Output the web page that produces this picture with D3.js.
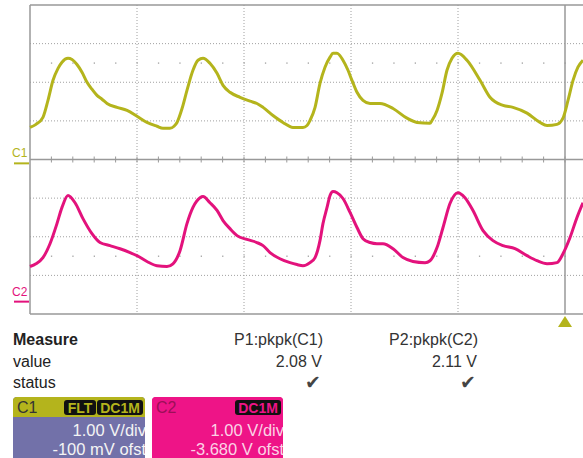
<!DOCTYPE html>
<meta charset="utf-8">
<title>scope capture</title>
<style>
body { margin: 0; background: #fff; }
svg { display: block; font-family: "Liberation Sans", Arial, sans-serif; }
</style>
<script src="https://cdn.jsdelivr.net/npm/d3@7"></script>
<body>
<script>
var width = 583, height = 458;

// Time in horizontal divisions from the left edge of the grid, volts per channel
var c1Time = [0, 0.056, 0.121, 0.168, 0.215, 0.262, 0.299, 0.355, 0.393, 0.439, 0.486, 0.533, 0.579, 0.626, 0.673, 0.720, 0.813, 0.907, 1.0, 1.093, 1.187, 1.243, 1.308, 1.346, 1.374, 1.421, 1.467, 1.523, 1.570, 1.617, 1.682, 1.748, 1.804, 1.869, 1.963, 2.056, 2.121, 2.178, 2.271, 2.364, 2.458, 2.551, 2.589, 2.617, 2.664, 2.710, 2.757, 2.804, 2.832, 2.869, 2.925, 2.972, 3.009, 3.056, 3.112, 3.178, 3.271, 3.393, 3.523, 3.617, 3.738, 3.757, 3.804, 3.850, 3.897, 3.944, 4.0, 4.084, 4.206, 4.299, 4.421, 4.514, 4.645, 4.766, 4.832, 4.925, 4.981, 5.028, 5.075, 5.121, 5.168];
var c1Volts = [0.93, 1.01, 1.19, 1.63, 2.15, 2.46, 2.62, 2.72, 2.69, 2.56, 2.36, 2.10, 1.92, 1.76, 1.66, 1.55, 1.45, 1.37, 1.22, 1.06, 0.96, 0.91, 0.91, 0.96, 1.06, 1.42, 1.89, 2.41, 2.67, 2.72, 2.59, 2.33, 2.02, 1.84, 1.71, 1.61, 1.55, 1.45, 1.24, 1.06, 0.93, 0.93, 0.98, 1.11, 1.45, 2.07, 2.49, 2.75, 2.85, 2.85, 2.67, 2.41, 2.15, 1.84, 1.63, 1.55, 1.55, 1.42, 1.17, 1.06, 1.04, 1.11, 1.37, 1.81, 2.41, 2.72, 2.85, 2.67, 2.15, 1.71, 1.50, 1.45, 1.30, 1.06, 0.98, 1.01, 1.17, 1.63, 2.15, 2.49, 2.67];

var c2Time = [0, 0.056, 0.121, 0.187, 0.252, 0.299, 0.355, 0.421, 0.495, 0.579, 0.654, 0.748, 0.841, 0.935, 1.0, 1.093, 1.187, 1.280, 1.336, 1.402, 1.467, 1.523, 1.589, 1.617, 1.682, 1.748, 1.804, 1.869, 1.935, 2.028, 2.121, 2.178, 2.243, 2.336, 2.430, 2.495, 2.551, 2.617, 2.664, 2.710, 2.738, 2.776, 2.804, 2.832, 2.869, 2.925, 2.991, 3.056, 3.112, 3.178, 3.243, 3.299, 3.393, 3.486, 3.579, 3.692, 3.738, 3.804, 3.860, 3.925, 4.0, 4.065, 4.140, 4.234, 4.327, 4.421, 4.533, 4.645, 4.738, 4.832, 4.925, 4.981, 5.047, 5.112, 5.168];
var c2Volts = [0.91, 0.98, 1.14, 1.50, 2.02, 2.44, 2.75, 2.56, 2.15, 1.76, 1.53, 1.45, 1.37, 1.27, 1.19, 1.04, 0.93, 0.91, 0.98, 1.32, 2.02, 2.44, 2.69, 2.72, 2.56, 2.36, 2.10, 1.89, 1.71, 1.61, 1.53, 1.45, 1.27, 1.11, 1.01, 0.96, 0.93, 1.01, 1.14, 1.58, 2.02, 2.44, 2.75, 2.85, 2.82, 2.67, 2.31, 1.92, 1.63, 1.53, 1.50, 1.50, 1.37, 1.14, 1.04, 1.01, 1.06, 1.40, 1.92, 2.54, 2.82, 2.69, 2.36, 1.84, 1.58, 1.45, 1.37, 1.19, 1.06, 0.98, 1.01, 1.24, 1.66, 2.18, 2.56];

var channels = ["C1", "C2"];
var offsets = [-0.1, -3.68];
var scaleLabels = ["1.00 V/div", "1.00 V/div"];
var offsetLabels = ["-100 mV ofst", "-3.680 V ofst"];
var couplingTags = [["FLT", "DC1M"], ["DC1M"]];
var measureNames = ["P1:pkpk(C1)", "P2:pkpk(C2)"];
var measureValues = ["2.08 V", "2.11 V"];
var rowLabels = ["Measure", "value", "status"];

var traceColors = ["#b4b41c", "#e3127c"];

var svg = d3.select("body").append("svg")
    .attr("width", width)
    .attr("height", height);

// one horizontal division = 107px, one vertical = 38.6px
var x = d3.scaleLinear().domain([0, 5]).range([30, 565]);
var y = d3.scaleLinear().domain([-4, 4]).range([314, 5]);

var grid = svg.append("g");

// dotted grid
grid.selectAll("line.h")
    .data([-3, -2, -1, 1, 2, 3])
  .enter().append("line")
    .attr("x1", 30).attr("x2", width)
    .attr("y1", function(d) { return y(d); })
    .attr("y2", function(d) { return y(d); })
    .attr("stroke", "#a0a0a0")
    .attr("stroke-dasharray", "1,2");
grid.selectAll("line.v")
    .data([1, 2, 3, 4])
  .enter().append("line")
    .attr("x1", function(d) { return x(d); })
    .attr("x2", function(d) { return x(d); })
    .attr("y1", 5).attr("y2", 314)
    .attr("stroke", "#a0a0a0")
    .attr("stroke-dasharray", "1,2");

// minor dots rows
var minor = d3.range(1, 26).map(function(i) { return i * 0.2; });
[2.5, -2.5].forEach(function(r) {
  grid.selectAll(null)
      .data(minor)
    .enter().append("rect")
      .attr("x", function(d) { return x(d) - 0.5; })
      .attr("y", y(r) - 0.5)
      .attr("width", 1.3).attr("height", 1.3)
      .attr("fill", "#a0a0a0");
});

// solid frame, center line and trigger time line
grid.append("line").attr("x1", 30).attr("x2", width).attr("y1", y(4)).attr("y2", y(4)).attr("stroke", "#999").attr("stroke-width", 1.5);
grid.append("line").attr("x1", 30).attr("x2", width).attr("y1", y(-4)).attr("y2", y(-4)).attr("stroke", "#999").attr("stroke-width", 1.5);
grid.append("line").attr("x1", 30).attr("x2", width).attr("y1", y(0)).attr("y2", y(0)).attr("stroke", "#999").attr("stroke-width", 1.3);
grid.append("line").attr("x1", 30).attr("x2", 30).attr("y1", 5).attr("y2", 314).attr("stroke", "#999").attr("stroke-width", 1.5);
grid.append("line").attr("x1", x(5)).attr("x2", x(5)).attr("y1", 5).attr("y2", 314).attr("stroke", "#999").attr("stroke-width", 1.5);

grid.selectAll("line.tick")
    .data(minor)
  .enter().append("line")
    .attr("x1", function(d) { return x(d); })
    .attr("x2", function(d) { return x(d); })
    .attr("y1", y(0) - 3).attr("y2", y(0) + 3)
    .attr("stroke", "#999");

// traces
var traces = [
  { time: c1Time, volts: c1Volts },
  { time: c2Time, volts: c2Volts }
];
var line = d3.line()
    .curve(d3.curveMonotoneX)
    .x(function(d) { return x(d[0]); })
    .y(function(d) { return d[1]; });

traces.forEach(function(tr, i) {
  var pts = tr.time.map(function(t, k) { return [t, y(tr.volts[k] + offsets[i])]; });
  svg.append("path")
      .attr("d", line(pts))
      .attr("fill", "none")
      .attr("stroke", traceColors[i])
      .attr("stroke-width", 3)
      .attr("stroke-linejoin", "round");

  // channel ground marker
  var g0 = y(offsets[i]);
  svg.append("text")
      .attr("x", 12).attr("y", g0 - 6)
      .attr("fill", traceColors[i])
      .style("font-size", "12px")
      .text(channels[i]);
  svg.append("line")
      .attr("x1", 14).attr("x2", 29)
      .attr("y1", g0).attr("y2", g0)
      .attr("stroke", traceColors[i])
      .attr("stroke-width", 2);
});

// trigger marker
svg.append("path")
    .attr("d", "M" + x(5) + ",316 L" + (x(5) - 7) + ",327 L" + (x(5) + 7) + ",327 Z")
    .attr("fill", "#b4b41c");

// measure table
svg.selectAll("text.row")
    .data(rowLabels)
  .enter().append("text")
    .attr("x", 13)
    .attr("y", function(d, i) { return 345 + i * 21.5; })
    .attr("fill", "#222")
    .style("font-size", "16px")
    .style("font-weight", function(d, i) { return i == 0 ? "bold" : "normal"; })
    .text(function(d) { return d; });

var colRight = [323, 478];
measureNames.forEach(function(m, i) {
  svg.append("text")
      .attr("x", colRight[i]).attr("y", 345)
      .attr("text-anchor", "end")
      .attr("fill", "#333")
      .style("font-size", "16px")
      .text(m);
  svg.append("text")
      .attr("x", colRight[i] - 1).attr("y", 366.5)
      .attr("text-anchor", "end")
      .attr("fill", "#333")
      .style("font-size", "16px")
      .text(measureValues[i]);
  svg.append("text")
      .attr("x", colRight[i] - 2).attr("y", 389)
      .attr("text-anchor", "end")
      .attr("fill", "#444")
      .style("font-family", "DejaVu Sans")
      .style("font-size", "19px")
      .text("\u2714");
});

// channel descriptor badges
var badgeX = [13, 152], badgeW = [132, 131];
var headColors = ["#b4b41c", "#ee1487"];
var bodyColors = ["#7271a9", "#ee1487"];
var nameColors = ["#333", "#9c0f58"];
var bodyText = ["#f4f4f4", "#fbd3e6"];

channels.forEach(function(c, i) {
  var bx = badgeX[i], bw = badgeW[i];
  var clip = svg.append("clipPath").attr("id", "clip" + i);
  clip.append("rect").attr("x", bx).attr("y", 397).attr("width", bw).attr("height", 70).attr("rx", 4);
  var b = svg.append("g").attr("clip-path", "url(#clip" + i + ")");
  b.append("rect").attr("x", bx).attr("y", 397).attr("width", bw).attr("height", 70).attr("fill", bodyColors[i]);
  b.append("rect").attr("x", bx).attr("y", 397).attr("width", bw).attr("height", 20).attr("fill", headColors[i]);
  b.append("text")
      .attr("x", bx + 4).attr("y", 413)
      .attr("fill", nameColors[i])
      .style("font-size", "16px")
      .text(c);

  // coupling tags, right aligned in the header
  var tags = couplingTags[i];
  var tagW = { "FLT": 32, "DC1M": 46 };
  var right = bx + bw - 2;
  for (var k = tags.length - 1; k >= 0; k--) {
    var w = tagW[tags[k]];
    b.append("rect")
        .attr("x", right - w).attr("y", 400)
        .attr("width", w).attr("height", 15)
        .attr("rx", 3)
        .attr("fill", "#111");
    b.append("text")
        .attr("x", right - w / 2).attr("y", 413)
        .attr("text-anchor", "middle")
        .attr("fill", headColors[i])
        .style("font-size", "14px")
        .style("font-weight", "bold")
        .text(tags[k]);
    right -= w + 1;
  }

  b.append("text")
      .attr("x", bx + bw + 1).attr("y", 436)
      .attr("text-anchor", "end")
      .attr("fill", bodyText[i])
      .style("font-size", "16.5px")
      .text(scaleLabels[i]);
  b.append("text")
      .attr("x", bx + bw + 1).attr("y", 455)
      .attr("text-anchor", "end")
      .attr("fill", bodyText[i])
      .style("font-size", "16.5px")
      .text(offsetLabels[i]);
});
</script>
